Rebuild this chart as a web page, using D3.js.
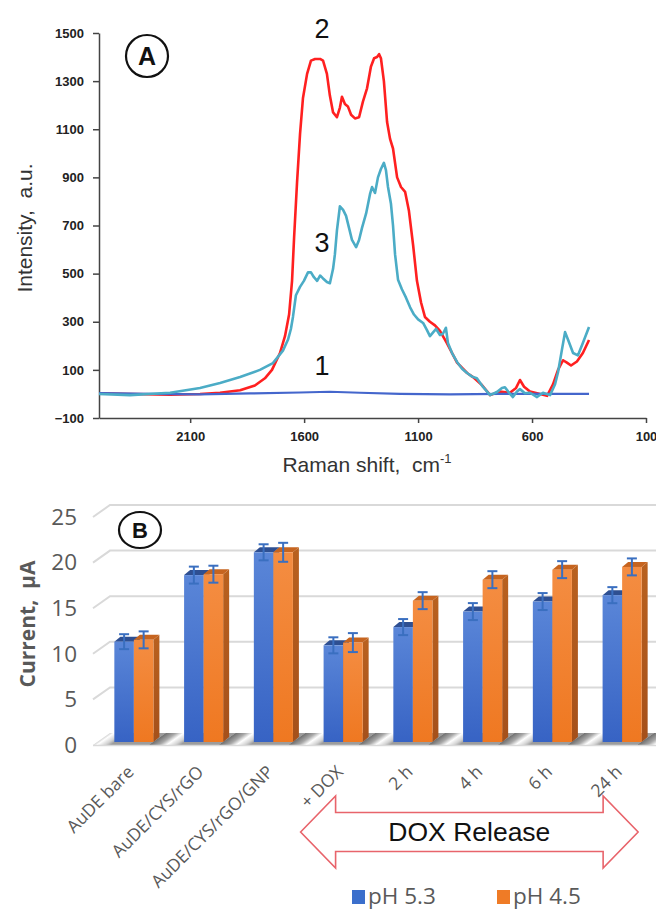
<!DOCTYPE html>
<html>
<head>
<meta charset="utf-8">
<script src="https://cdn.jsdelivr.net/npm/d3@7"></script>
<style>
  body { margin: 0; background: #fff; }
  text { white-space: pre; }
</style>
</head>
<body>
<svg id="fig" width="656" height="911"></svg>
<script>
// ---------- panel A : Raman spectra ----------
const shift2 = [2500,2364,2188,2057,1969,1881,1816,1772,1741,1706,1684,1666,1653,1644,1631,1618,1605,1587,1570,1552,1530,1517,1500,1487,1473,1456,1443,1434,1421,1408,1394,1377,1359,1342,1324,1307,1293,1280,1271,1263,1250,1236,1223,1210,1192,1175,1157,1140,1122,1105,1087,1070,1048,1026,1004,973,929,885,859,820,784,741,697,670,653,635,609,565,534,508,486,464,447,429,403,377,350];
const int2 = [3,0,-3,0,5,15,35,65,100,170,240,330,470,650,880,1080,1230,1330,1385,1392,1392,1385,1330,1240,1170,1150,1190,1235,1205,1195,1160,1145,1150,1215,1270,1360,1395,1400,1412,1395,1300,1130,1060,1020,900,860,840,760,620,470,380,320,300,285,262,210,130,87,70,37,-5,10,5,25,58,30,10,0,-8,40,100,140,130,118,135,170,224];

const shift3 = [2500,2364,2188,2057,1969,1881,1794,1737,1693,1671,1658,1649,1636,1618,1601,1583,1570,1557,1543,1530,1517,1500,1487,1473,1465,1456,1443,1429,1416,1403,1390,1372,1359,1346,1328,1311,1302,1289,1276,1263,1250,1241,1232,1219,1210,1201,1188,1171,1153,1135,1118,1100,1078,1061,1048,1035,1021,1004,991,978,969,951,929,907,885,863,842,815,784,754,732,719,701,684,666,653,631,609,578,552,521,499,486,469,455,442,420,399,377,350];
const int3 = [0,-5,5,25,45,70,100,128,180,225,270,320,410,445,470,505,505,485,470,492,480,465,460,520,580,680,780,765,740,690,640,610,640,690,750,830,860,835,900,935,960,930,860,790,700,580,475,435,400,360,330,310,295,265,240,255,270,245,250,275,212,170,133,105,87,72,65,29,-5,8,25,28,5,-13,10,20,3,5,-13,5,-5,40,90,183,257,225,170,160,212,278];

const shift1 = [2500,2276,2057,1837,1618,1487,1355,1179,960,741,521,350];
const int1 = [3,0,-2,2,6,9,5,0,-2,0,0,0];

const ramanTicks = [2100, 1600, 1100, 600, 100];
const intensityTicks = [-100, 100, 300, 500, 700, 900, 1100, 1300, 1500];

// ---------- panel B : current bars ----------
const electrodes = ["AuDE bare", "AuDE/CYS/rGO", "AuDE/CYS/rGO/GNP", "+ DOX", "2 h", "4 h", "6 h", "24 h"];
const ph53 = [11.0, 18.3, 20.8, 10.6, 12.6, 14.3, 15.4, 16.1];
const ph45 = [11.2, 18.4, 20.8, 10.9, 15.5, 17.8, 18.9, 19.2];
const err53 = [0.82, 0.93, 0.88, 0.88, 0.88, 0.93, 0.93, 0.88];
const err45 = [0.93, 0.93, 1.04, 1.04, 0.93, 0.93, 0.93, 0.93];
const currentTicks = [0, 5, 10, 15, 20, 25];
const seriesNames = ["pH 5.3", "pH 4.5"];

const svg = d3.select("#fig");
const defs = svg.append("defs");
const fontA = "Liberation Sans, Arial, sans-serif";
const fontB = "Open Sans, Noto Sans, sans-serif";

// ===== panel A =====
const xA = d3.scaleLinear().domain([2500, 100]).range([99, 646]);
const yA = d3.scaleLinear().domain([-100, 1500]).range([418, 33]);

const axX = svg.append("g").attr("transform", "translate(0,418)")
  .call(d3.axisBottom(xA).tickValues(ramanTicks).tickSize(5).tickSizeOuter(0).tickPadding(9).tickFormat(d3.format("d")));
const axY = svg.append("g").attr("transform", "translate(99,0)")
  .call(d3.axisLeft(yA).tickValues(intensityTicks).tickSize(6).tickSizeOuter(0).tickPadding(9).tickFormat(d3.format("d")));
[axX, axY].forEach(ax => {
  ax.selectAll("path, line").attr("stroke", "#444").attr("stroke-width", 1.5);
  ax.selectAll("text").attr("font-family", fontA).attr("font-weight", "bold")
    .attr("font-size", 13).attr("fill", "#222");
});

const line = d3.line().x(d => xA(d[0])).y(d => yA(d[1]));
const spectra = [
  { pts: d3.zip(shift2, int2), color: "#ff2020", w: 2.6 },
  { pts: d3.zip(shift1, int1), color: "#4466cc", w: 2.2 },
  { pts: d3.zip(shift3, int3), color: "#4bacc6", w: 2.6 }
];
svg.append("g").selectAll("path").data(spectra).join("path")
  .attr("d", d => line(d.pts))
  .attr("fill", "none")
  .attr("stroke", d => d.color)
  .attr("stroke-width", d => d.w)
  .attr("stroke-linejoin", "round");

// curve numbers
const curveLabels = [
  { t: "2", x: 1522, y: 1480 },
  { t: "3", x: 1522, y: 590 },
  { t: "1", x: 1522, y: 79 }
];
svg.append("g").selectAll("text").data(curveLabels).join("text")
  .attr("x", d => xA(d.x)).attr("y", d => yA(d.y))
  .attr("text-anchor", "middle")
  .attr("font-family", fontA).attr("font-size", 27).attr("fill", "#111")
  .text(d => d.t);

// axis titles
const xt = svg.append("text").attr("x", 367).attr("y", 472).attr("text-anchor", "middle")
  .attr("font-family", fontA).attr("font-size", 21).attr("fill", "#333");
xt.append("tspan").text("Raman shift,  cm");
xt.append("tspan").attr("font-size", 13).attr("dy", -9).text("-1");

svg.append("text").attr("transform", "translate(32,228) rotate(-90)")
  .attr("text-anchor", "middle")
  .attr("font-family", fontA).attr("font-size", 21).attr("fill", "#333")
  .text("Intensity,  a.u.");

// panel tag A
svg.append("circle").attr("cx", 147).attr("cy", 56).attr("r", 21)
  .attr("fill", "none").attr("stroke", "#111").attr("stroke-width", 2.2);
svg.append("text").attr("x", 147).attr("y", 65).attr("text-anchor", "middle")
  .attr("font-family", fontA).attr("font-weight", "bold").attr("font-size", 25).attr("fill", "#111")
  .text("A");

// ===== panel B =====
const xB = d3.scaleBand().domain(electrodes).range([99, 657]).paddingInner(0.44).paddingOuter(0.22);
const yB = d3.scaleLinear().domain([0, 25]).range([742, 514]);
const bw = xB.bandwidth();
const half = bw / 2;
const dX = 6, dY = -5;         // bar depth
const wallX0 = 93, wallX1 = 110; // left wall front/back

// back wall gridlines
svg.append("g").selectAll("polyline").data(currentTicks.filter(v => v > 0)).join("polyline")
  .attr("points", v => `${wallX0},${yB(v) + 3} ${wallX1},${yB(v) - 9} 656,${yB(v) - 9}`)
  .attr("fill", "none").attr("stroke", "#d9d9d9").attr("stroke-width", 2);

// floor
const fg = defs.append("linearGradient").attr("id", "floorGrad");
[[0, "#707070"], [0.14, "#a9a9a9"], [0.25, "#ffffff"], [0.37, "#d2d2d2"], [0.45, "#9c9c9c"], [1, "#9c9c9c"]]
  .forEach(s => fg.append("stop").attr("offset", s[0]).attr("stop-color", s[1]));
const skew = Math.tan(55 * Math.PI / 180);
const tx = xB(electrodes[0]) + bw + skew * 742;
const pat = defs.append("pattern").attr("id", "floorPat").attr("patternUnits", "userSpaceOnUse")
  .attr("width", xB.step()).attr("height", 60)
  .attr("patternTransform", `translate(${tx},0) skewX(-55)`);
pat.append("rect").attr("width", xB.step()).attr("height", 60).attr("fill", "url(#floorGrad)");
svg.append("polygon")
  .attr("points", `${wallX0},${yB(0) + 3} ${wallX1},${yB(0) - 9} 656,${yB(0) - 9} 656,${yB(0) + 3}`)
  .attr("fill", "url(#floorPat)");
svg.append("line").attr("x1", wallX0).attr("x2", 656).attr("y1", yB(0) + 3.5).attr("y2", yB(0) + 3.5)
  .attr("stroke", "#d9d9d9").attr("stroke-width", 1.5);

// bar gradients
function vGrad(id, c0, c1) {
  const g = defs.append("linearGradient").attr("id", id).attr("x1", 0).attr("x2", 0).attr("y1", 0).attr("y2", 1);
  g.append("stop").attr("offset", 0).attr("stop-color", c0);
  g.append("stop").attr("offset", 1).attr("stop-color", c1);
}
vGrad("blueFront", "#5a86d8", "#3763c4");
vGrad("orangeFront", "#f48d42", "#ef7821");
vGrad("blueSide", "#2f518f", "#2a4a86");
vGrad("orangeSide", "#b9611f", "#a5501a");

const series = [
  { vals: ph53, errs: err53, off: 0, front: "url(#blueFront)", side: "url(#blueSide)", top: "#2e4f92", key: "#3b6fcc" },
  { vals: ph45, errs: err45, off: half, front: "url(#orangeFront)", side: "url(#orangeSide)", top: "#c6641f", key: "#ef7b26" }
];

const bars = svg.append("g");
series.forEach(s => {
  const g = bars.append("g");
  electrodes.forEach((c, i) => {
    const x0 = xB(c) + s.off, x1 = x0 + half;
    const t = yB(s.vals[i]), b = yB(0);
    g.append("polygon").attr("points", `${x1},${t} ${x1 + dX},${t + dY} ${x1 + dX},${b + dY} ${x1},${b}`).attr("fill", s.side);
    g.append("polygon").attr("points", `${x0},${t} ${x0 + dX},${t + dY} ${x1 + dX},${t + dY} ${x1},${t}`).attr("fill", s.top);
    g.append("rect").attr("x", x0).attr("y", t).attr("width", half).attr("height", b - t).attr("fill", s.front);
  });
});

// error bars
const eb = svg.append("g").attr("stroke", "#3a6fc0").attr("stroke-width", 2);
series.forEach(s => {
  electrodes.forEach((c, i) => {
    const cx = xB(c) + s.off + half / 2;
    const lo = yB(s.vals[i] - s.errs[i]), hi = yB(s.vals[i] + s.errs[i]);
    eb.append("line").attr("x1", cx).attr("x2", cx).attr("y1", lo).attr("y2", hi);
    eb.append("line").attr("x1", cx - 5).attr("x2", cx + 5).attr("y1", lo).attr("y2", lo);
    eb.append("line").attr("x1", cx - 5).attr("x2", cx + 5).attr("y1", hi).attr("y2", hi);
  });
});

// y tick labels
svg.append("g").selectAll("text").data(currentTicks).join("text")
  .attr("x", 77).attr("y", v => yB(v) + 3).attr("dy", "0.35em")
  .attr("text-anchor", "end")
  .attr("font-family", fontB).attr("font-size", 22.5).attr("fill", "#595959")
  .text(v => v);

svg.append("text").attr("transform", "translate(35,624) rotate(-90)")
  .attr("text-anchor", "middle")
  .attr("font-family", fontB).attr("font-weight", "bold").attr("font-size", 21).attr("fill", "#595959")
  .text("Current,  µA");

// category labels
svg.append("g").selectAll("text").data(electrodes).join("text")
  .attr("transform", c => `translate(${xB(c) + bw / 2 + 1},773) rotate(-45)`)
  .attr("text-anchor", "end")
  .attr("font-family", fontB).attr("font-size", 17.5).attr("fill", "#595959")
  .text(c => c);

// panel tag B
svg.append("ellipse").attr("cx", 140).attr("cy", 530).attr("rx", 21).attr("ry", 18)
  .attr("fill", "#fff").attr("stroke", "#111").attr("stroke-width", 2.2);
svg.append("text").attr("x", 140).attr("y", 538).attr("text-anchor", "middle")
  .attr("font-family", fontA).attr("font-weight", "bold").attr("font-size", 22).attr("fill", "#111")
  .text("B");

// DOX release arrow
const aL = xB("+ DOX") - 23, aR = xB("24 h") + bw / 2 + 16, aY = 832;
const headL = 35, headH = 36, shaftH = 19.5;
const arrowPts = [
  [aL, aY], [aL + headL, aY - headH], [aL + headL, aY - shaftH], [aR - headL, aY - shaftH],
  [aR - headL, aY - headH], [aR, aY], [aR - headL, aY + headH], [aR - headL, aY + shaftH],
  [aL + headL, aY + shaftH], [aL + headL, aY + headH]
];
svg.append("polygon").attr("points", arrowPts.map(p => p.join(",")).join(" "))
  .attr("fill", "#fff").attr("stroke", "#e8646b").attr("stroke-width", 1.6).attr("stroke-linejoin", "miter");
svg.append("text").attr("x", (aL + aR) / 2).attr("y", 841).attr("text-anchor", "middle")
  .attr("font-family", fontA).attr("font-size", 26.5).attr("fill", "#111")
  .text("DOX Release");

// legend
const legX = [352, 497];
const leg = svg.append("g").selectAll("g").data(series).join("g")
  .attr("transform", (d, i) => `translate(${legX[i]},890)`);
leg.append("rect").attr("width", 13).attr("height", 14).attr("fill", d => d.key);
leg.append("text").attr("x", 16).attr("y", 14)
  .attr("font-family", fontB).attr("font-size", 22.5).attr("fill", "#595959")
  .text((d, i) => seriesNames[i]);
</script>
</body>
</html>
